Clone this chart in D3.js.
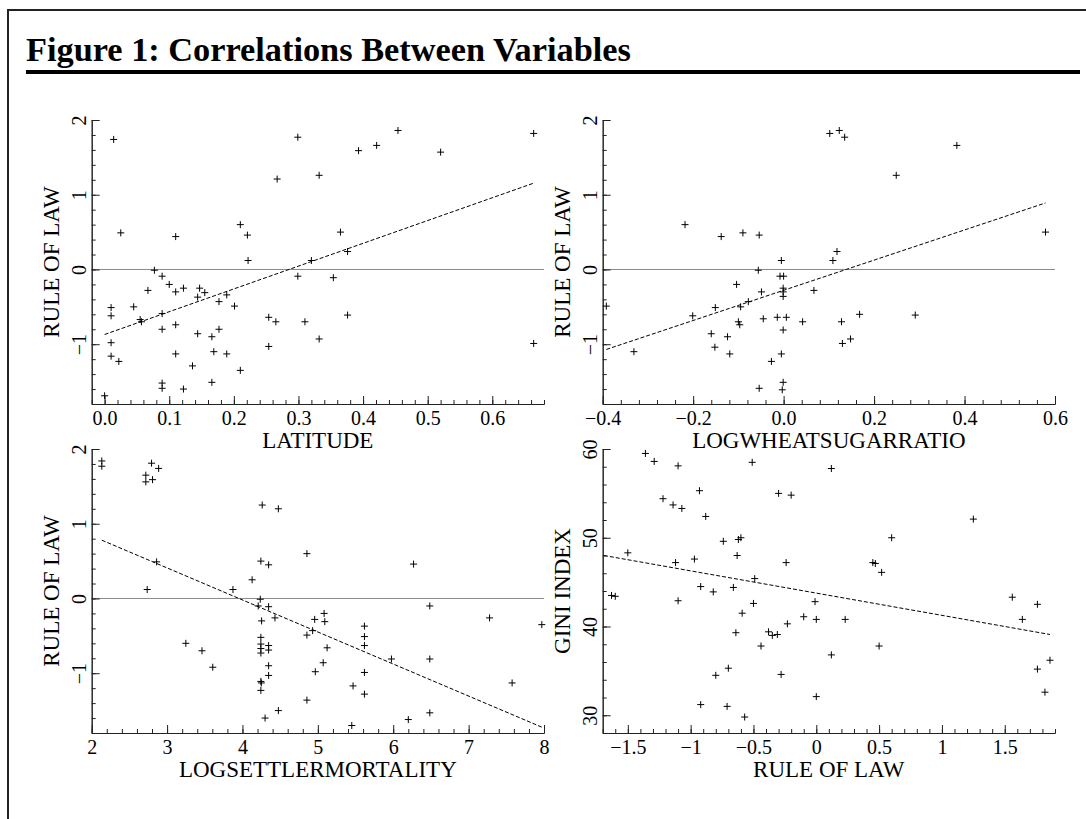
<!DOCTYPE html>
<html>
<head>
<meta charset="utf-8">
<script src="https://d3js.org/d3.v7.min.js"></script>
<style>
  body { margin: 0; background: #fff; }
</style>
</head>
<body>
<svg width="1086" height="819"></svg>
<script>
// LATITUDE vs RULE OF LAW
var latitudeRol = [[0.014,1.74],[0.299,1.77],[0.267,1.21],[0.332,1.26],[0.025,0.49],[0.110,0.44],[0.210,0.60],[0.221,0.46],
  [0.222,0.12],[0.365,0.50],[0.376,0.24],[0.320,0.12],[0.393,1.59],[0.421,1.66],[0.454,1.86],[0.520,1.57],[0.664,1.82],
  [0.077,-0.01],[0.089,-0.09],[0.100,-0.20],[0.067,-0.28],[0.110,-0.30],[0.122,-0.25],[0.147,-0.25],[0.155,-0.31],
  [0.144,-0.37],[0.189,-0.34],[0.177,-0.43],[0.201,-0.49],[0.010,-0.51],[0.010,-0.62],[0.045,-0.50],[0.055,-0.67],
  [0.057,-0.70],[0.089,-0.59],[0.089,-0.80],[0.110,-0.74],[0.144,-0.86],[0.166,-0.90],[0.177,-0.80],[0.010,-0.98],
  [0.010,-1.16],[0.022,-1.23],[0.110,-1.13],[0.169,-1.10],[0.189,-1.13],[0.136,-1.29],[0.210,-1.35],[0.089,-1.52],
  [0.089,-1.59],[0.122,-1.60],[0.166,-1.51],[0.000,-1.69],[0.254,-0.64],[0.265,-0.70],[0.254,-1.03],[0.299,-0.09],
  [0.310,-0.70],[0.332,-0.93],[0.354,-0.11],[0.376,-0.61],[0.664,-0.99]];
var latitudeFit = [[0, -0.87], [0.664, 1.155]];

// LOGWHEATSUGARRATIO vs RULE OF LAW
var wheatRol = [[-0.218,0.60],[-0.138,0.44],[-0.090,0.49],[-0.054,0.46],[-0.005,0.12],[0.102,1.82],[0.123,1.86],
  [0.135,1.77],[0.383,1.66],[0.249,1.26],[0.579,0.50],[0.118,0.24],[0.109,0.12],[-0.056,-0.01],[-0.008,-0.09],
  [0.000,-0.09],[-0.104,-0.20],[-0.049,-0.30],[-0.001,-0.25],[-0.001,-0.30],[-0.001,-0.36],[0.067,-0.28],
  [-0.392,-0.49],[-0.151,-0.51],[-0.078,-0.43],[-0.095,-0.50],[-0.201,-0.62],[-0.100,-0.70],[-0.097,-0.74],
  [-0.045,-0.66],[-0.014,-0.64],[0.006,-0.64],[0.042,-0.70],[-0.001,-0.81],[-0.160,-0.86],[-0.124,-0.90],
  [-0.152,-1.04],[-0.119,-1.13],[-0.005,-1.13],[-0.331,-1.10],[-0.027,-1.23],[-0.001,-1.51],[-0.054,-1.59],
  [-0.003,-1.61],[0.128,-0.70],[0.168,-0.60],[0.291,-0.61],[0.130,-0.99],[0.148,-0.93]];
var wheatFit = [[-0.392, -1.07], [0.579, 0.89]];

// LOGSETTLERMORTALITY vs RULE OF LAW
var mortalityRol = [[2.134,1.84],[2.134,1.77],[2.794,1.81],[2.888,1.74],[2.718,1.65],[2.718,1.56],[2.807,1.59],
  [4.262,1.25],[4.476,1.20],[2.861,0.49],[2.736,0.12],[3.874,0.12],[4.128,0.25],[4.244,0.50],[4.347,0.45],
  [4.855,0.60],[6.270,0.46],[4.236,-0.01],[4.209,-0.10],[4.347,-0.11],[4.431,-0.26],[4.254,-0.30],[4.958,-0.28],
  [5.083,-0.20],[5.092,-0.31],[4.931,-0.43],[4.855,-0.49],[5.123,-0.66],[5.618,-0.37],[5.618,-0.51],[5.618,-0.63],
  [6.485,-0.10],[7.278,-0.26],[7.971,-0.35],[3.249,-0.60],[3.463,-0.70],[3.606,-0.92],[4.244,-0.52],[4.244,-0.61],
  [4.244,-0.67],[4.347,-0.63],[4.347,-0.69],[4.244,-0.73],[4.347,-0.90],[4.347,-1.03],[4.244,-1.11],[4.250,-1.13],
  [4.244,-1.23],[5.976,-0.81],[6.485,-0.81],[5.071,-0.86],[4.966,-0.98],[5.618,-0.99],[5.467,-1.17],[5.618,-1.28],
  [4.855,-1.36],[7.577,-1.13],[4.476,-1.50],[4.300,-1.60],[5.450,-1.70],[6.200,-1.62],[6.485,-1.53]];
var mortalityFit = [[2.134, 0.78], [7.99, -1.73]];

// RULE OF LAW vs GINI INDEX
var rolGini = [[-1.63,43.5],[-1.60,43.4],[-1.50,48.3],[-1.36,59.5],[-1.29,58.6],[-1.22,54.4],[-1.14,53.7],[-1.12,47.2],
  [-1.10,58.1],[-1.10,42.9],[-1.07,53.3],[-0.97,47.6],[-0.93,55.3],[-0.92,44.5],[-0.92,31.2],[-0.88,52.4],
  [-0.82,43.9],[-0.80,34.5],[-0.74,49.6],[-0.71,31.0],[-0.70,35.3],[-0.66,44.4],[-0.64,39.3],[-0.63,48.0],
  [-0.62,49.8],[-0.60,50.0],[-0.59,41.5],[-0.57,29.8],[-0.51,58.5],[-0.50,42.6],[-0.49,45.4],[-0.44,37.8],
  [-0.38,39.4],[-0.35,39.0],[-0.31,39.1],[-0.30,55.0],[-0.28,34.6],[-0.24,47.2],[-0.23,40.3],[-0.20,54.8],
  [-0.10,41.1],[-0.01,42.8],[0.00,32.1],[0.00,40.8],[0.12,57.8],[0.12,36.8],[0.23,40.8],[0.45,47.2],[0.47,47.1],
  [0.50,37.8],[0.52,46.1],[0.60,50.0],[1.25,52.1],[1.56,43.3],[1.64,40.8],[1.76,42.5],[1.76,35.2],[1.82,32.6],[1.86,36.2]];
var rolGiniFit = [[-1.69, 48.0], [1.86, 39.1]];

var rolTicks = [-1, 0, 1, 2];
var latitudeTicks = [0, 0.1, 0.2, 0.3, 0.4, 0.5, 0.6];
var wheatTicks = [-0.4, -0.2, 0, 0.2, 0.4, 0.6];
var mortalityTicks = [2, 3, 4, 5, 6, 7, 8];
var rolXTicks = [-1.5, -1, -0.5, 0, 0.5, 1, 1.5];
var giniTicks = [30, 40, 50, 60];

var svg = d3.select("svg");
var FONT = "'Liberation Serif', 'Times New Roman', serif";

// frame + heading
svg.append("path").attr("d", "M8,819V10H1086").attr("fill", "none")
  .attr("stroke", "#222").attr("stroke-width", 2);
var title = svg.append("text").attr("x", 26).attr("y", 61)
  .attr("font-family", FONT).attr("font-weight", "bold").attr("font-size", 30)
  .text("Figure 1: Correlations Between Variables");
var tw = title.node().getComputedTextLength();
title.attr("font-size", 30 * 605 / tw);
svg.append("rect").attr("x", 26).attr("y", 70).attr("width", 1054).attr("height", 4).attr("fill", "#000");

function steps(a, b, s) {
  var n = Math.round((b - a) / s), out = [];
  for (var i = 0; i <= n; i++) out.push(a + i * s);
  return out;
}

function styleAxis(sel) {
  sel.selectAll(".domain, .tick line").attr("stroke", "#222");
  sel.attr("font-family", FONT).attr("font-size", 20);
  sel.selectAll("text").attr("fill", "#000");
}

function panel(c) {
  var x = d3.scaleLinear().domain(c.xDomain).range(c.xRange);
  var y = d3.scaleLinear().domain(c.yDomain).range(c.yRange);
  var left = c.xRange[0], bottom = c.yRange[0];
  var g = svg.append("g");

  if (c.zero) {
    g.append("line").attr("x1", c.xRange[0]).attr("x2", c.xRange[1])
      .attr("y1", y(0)).attr("y2", y(0)).attr("stroke", "#8a8a8a");
  }

  // minor ticks
  g.append("g").attr("transform", "translate(" + left + ",0)")
    .call(d3.axisLeft(y).tickValues(c.yMinor).tickSize(-4).tickSizeOuter(0).tickFormat(""))
    .call(styleAxis);
  g.append("g").attr("transform", "translate(0," + bottom + ")")
    .call(d3.axisBottom(x).tickValues(c.xMinor).tickSize(-4).tickSizeOuter(0).tickFormat(""))
    .call(styleAxis);

  // major ticks
  var ya = g.append("g").attr("transform", "translate(" + left + ",0)")
    .call(d3.axisLeft(y).tickValues(c.yTicks).tickSize(-8).tickSizeOuter(0).tickFormat(c.yFmt))
    .call(styleAxis);
  ya.selectAll("text").attr("transform", "rotate(-90)").attr("x", 0).attr("y", -6)
    .attr("dy", null).attr("text-anchor", "middle");
  var xa = g.append("g").attr("transform", "translate(0," + bottom + ")")
    .call(d3.axisBottom(x).tickValues(c.xTicks).tickSize(-8).tickSizeOuter(0).tickFormat(c.xFmt))
    .call(styleAxis);
  xa.selectAll("text").attr("y", 21).attr("dy", null);

  // axis titles
  g.append("text").attr("x", (c.xRange[0] + c.xRange[1]) / 2).attr("y", bottom + 44)
    .attr("text-anchor", "middle").attr("font-family", FONT).attr("font-size", 23).text(c.xLabel);
  var cy = (c.yRange[0] + c.yRange[1]) / 2;
  g.append("text").attr("transform", "translate(" + (left - 33) + "," + cy + ") rotate(-90)")
    .attr("text-anchor", "middle").attr("font-family", FONT).attr("font-size", 23).text(c.yLabel);

  // fitted line
  g.append("path").datum(c.fit)
    .attr("d", d3.line().x(function(d) { return x(d[0]); }).y(function(d) { return y(d[1]); }))
    .attr("fill", "none").attr("stroke", "#000").attr("stroke-width", 1).attr("stroke-dasharray", "4,2");

  // points
  g.selectAll(".pt").data(c.pts).enter().append("path").attr("class", "pt")
    .attr("transform", function(d) { return "translate(" + x(d[0]) + "," + y(d[1]) + ")"; })
    .attr("d", "M-3.5,0H3.5M0,-3.5V3.5").attr("stroke", "#000").attr("stroke-width", 1);
}

var fmtInt = d3.format("d"), fmt1 = d3.format(".1f"), fmtG = d3.format("");

panel({pts: latitudeRol, fit: latitudeFit, xDomain: [-0.02, 0.68], xRange: [91.7, 544],
  yDomain: [-1.8, 2], yRange: [404, 120], xTicks: latitudeTicks, xMinor: steps(-0.02, 0.68, 0.02),
  yTicks: rolTicks, yMinor: steps(-1.8, 2, 0.2), xFmt: fmt1, yFmt: fmtInt,
  xLabel: "LATITUDE", yLabel: "RULE OF LAW", zero: true});

panel({pts: wheatRol, fit: wheatFit, xDomain: [-0.4, 0.6], xRange: [602.7, 1055],
  yDomain: [-1.8, 2], yRange: [404, 120], xTicks: wheatTicks, xMinor: steps(-0.4, 0.6, 0.04),
  yTicks: rolTicks, yMinor: steps(-1.8, 2, 0.2), xFmt: fmt1, yFmt: fmtInt,
  xLabel: "LOGWHEATSUGARRATIO", yLabel: "RULE OF LAW", zero: true});

panel({pts: mortalityRol, fit: mortalityFit, xDomain: [2, 8], xRange: [91.7, 544],
  yDomain: [-1.8, 2], yRange: [733, 449], xTicks: mortalityTicks, xMinor: steps(2, 8, 0.2),
  yTicks: rolTicks, yMinor: steps(-1.8, 2, 0.2), xFmt: fmtInt, yFmt: fmtInt,
  xLabel: "LOGSETTLERMORTALITY", yLabel: "RULE OF LAW", zero: true});

panel({pts: rolGini, fit: rolGiniFit, xDomain: [-1.7, 1.9], xRange: [602.7, 1055],
  yDomain: [28, 60], yRange: [733, 449], xTicks: rolXTicks, xMinor: steps(-1.7, 1.9, 0.1),
  yTicks: giniTicks, yMinor: steps(28, 60, 2), xFmt: fmtG, yFmt: fmtInt,
  xLabel: "RULE OF LAW", yLabel: "GINI INDEX", zero: false});
</script>
</body>
</html>
